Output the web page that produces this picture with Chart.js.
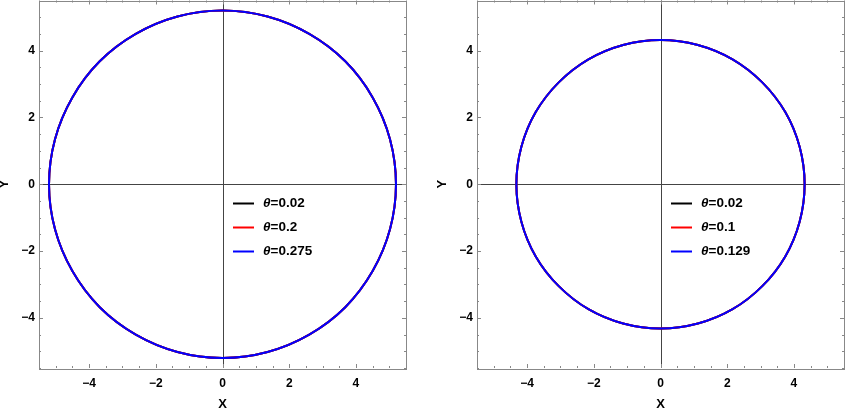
<!DOCTYPE html>
<html>
<head>
<meta charset="utf-8">
<script src="https://cdn.jsdelivr.net/npm/chart.js@4"></script>
<style>
  html, body { margin: 0; padding: 0; background: #fff; overflow: hidden; }
  body { width: 845px; height: 409px; position: relative; }
  canvas { position: absolute; top: 0; }
  #left { left: -18px; }
  #right { left: 420px; }
</style>
</head>
<body>
<canvas id="left" width="438" height="409"></canvas>
<canvas id="right" width="438" height="409"></canvas>
<script>
// orbit points (every 15 deg, with overlap to close the loop)
const leftX = [5.02, 5.2, 5.02, 4.5, 3.68, 2.6, 1.35, 0, -1.35, -2.6, -3.68, -4.5, -5.02, -5.2, -5.02, -4.5, -3.68, -2.6, -1.35, 0, 1.35, 2.6, 3.68, 4.5, 5.02, 5.2, 5.02];
const leftY = [-1.35, 0, 1.35, 2.6, 3.68, 4.5, 5.02, 5.2, 5.02, 4.5, 3.68, 2.6, 1.35, 0, -1.35, -2.6, -3.68, -4.5, -5.02, -5.2, -5.02, -4.5, -3.68, -2.6, -1.35, 0, 1.35];
const rightX = [4.17, 4.32, 4.17, 3.74, 3.05, 2.16, 1.12, 0, -1.12, -2.16, -3.05, -3.74, -4.17, -4.32, -4.17, -3.74, -3.05, -2.16, -1.12, 0, 1.12, 2.16, 3.05, 3.74, 4.17, 4.32, 4.17];
const rightY = [-1.12, 0, 1.12, 2.16, 3.05, 3.74, 4.17, 4.32, 4.17, 3.74, 3.05, 2.16, 1.12, 0, -1.12, -2.16, -3.05, -3.74, -4.17, -4.32, -4.17, -3.74, -3.05, -2.16, -1.12, 0, 1.12];
const thetaLeft = ['0.02', '0.2', '0.275'];
const thetaRight = ['0.02', '0.1', '0.129'];
const colors = ['#000000', '#ff0000', '#0000ff'];
const axisMin = -5.5, axisMax = 5.5;
const tickStep = 2;

const FONT = '"Liberation Sans", Arial, sans-serif';

function pts(xs, ys) {
  return xs.map((x, i) => ({x: x, y: ys[i]}));
}

function fmt(v) {
  return v < 0 ? '\u2212' + Math.abs(v) : String(v);
}

const decor = {
  id: 'decor',
  beforeDatasetsDraw(chart) {
    const {ctx, chartArea: a, scales: {x, y}} = chart;
    ctx.save();
    ctx.strokeStyle = '#444';
    ctx.lineWidth = 1;
    const x0 = Math.round(x.getPixelForValue(0)) + 0.5;
    const y0 = Math.round(y.getPixelForValue(0)) + 0.5;
    ctx.beginPath();
    ctx.moveTo(x0, a.top); ctx.lineTo(x0, a.bottom);
    ctx.moveTo(a.left, y0); ctx.lineTo(a.right, y0);
    ctx.stroke();
    ctx.restore();
  },
  afterDraw(chart) {
    const {ctx, chartArea: a, scales: {x, y}} = chart;
    ctx.save();
    // frame
    ctx.strokeStyle = '#888';
    ctx.lineWidth = 1;
    ctx.strokeRect(Math.round(a.left) + 0.5, Math.round(a.top) + 0.5,
      Math.round(a.right - a.left), Math.round(a.bottom - a.top));
    // inward ticks on all four sides
    ctx.beginPath();
    for (let k = -11; k <= 11; k++) {
      const v = k / 2;
      const len = (k % 4 === 0) ? 4 : 2;
      const px = Math.round(x.getPixelForValue(v)) + 0.5;
      const py = Math.round(y.getPixelForValue(v)) + 0.5;
      ctx.moveTo(px, a.bottom); ctx.lineTo(px, a.bottom - len);
      ctx.moveTo(px, a.top); ctx.lineTo(px, a.top + len);
      ctx.moveTo(a.left, py); ctx.lineTo(a.left + len, py);
      ctx.moveTo(a.right, py); ctx.lineTo(a.right - len, py);
    }
    ctx.stroke();
    // legend
    const lx = a.left + 194;
    const ly = a.top + 203;
    chart.data.datasets.forEach((ds, i) => {
      const yy = ly + i * 24;
      ctx.strokeStyle = ds.borderColor;
      ctx.lineWidth = 2;
      ctx.beginPath();
      ctx.moveTo(lx, yy); ctx.lineTo(lx + 21, yy);
      ctx.stroke();
      ctx.fillStyle = '#000';
      ctx.textBaseline = 'middle';
      ctx.textAlign = 'left';
      ctx.font = 'italic bold 13.5px ' + FONT;
      ctx.fillText(ds.label[0], lx + 30, yy);
      const w = ctx.measureText(ds.label[0]).width;
      ctx.font = 'bold 13.5px ' + FONT;
      ctx.fillText(ds.label.slice(1), lx + 30 + w, yy);
    });
    ctx.restore();
  }
};

function makeChart(id, xs, ys, thetas) {
  const last = xs.length - 1;
  const datasets = thetas.map((t, i) => ({
    label: '\u03b8=' + t,
    data: pts(xs, ys),
    borderColor: colors[i],
    backgroundColor: colors[i],
    borderWidth: 2,
    showLine: true,
    pointRadius: 0,
    tension: 0.34,
    order: thetas.length - 1 - i,
    // the overlap segments only shape the spline at the join
    segment: {
      borderColor: c => (c.p0DataIndex === 0 || c.p1DataIndex === last) ? 'rgba(0,0,0,0)' : undefined
    }
  }));
  return new Chart(document.getElementById(id), {
    type: 'scatter',
    data: {datasets: datasets},
    plugins: [decor],
    options: {
      responsive: false,
      devicePixelRatio: 1,
      animation: false,
      layout: {padding: {left: 0, right: 14, top: 0.5, bottom: 0}},
      plugins: {legend: {display: false}, tooltip: {enabled: false}},
      scales: {
        x: {
          type: 'linear',
          min: axisMin,
          max: axisMax,
          afterFit: s => { s.height = 41; s.paddingLeft = 0; s.paddingRight = 0; },
          grid: {display: false, drawTicks: false},
          border: {display: false},
          ticks: {
            stepSize: tickStep,
            includeBounds: false,
            padding: 8,
            color: '#000',
            font: {family: FONT, size: 12, weight: 'bold'},
            maxRotation: 0,
            callback: fmt
          },
          title: {
            display: true,
            text: 'X',
            color: '#000',
            padding: 0,
            font: {family: FONT, size: 13, weight: 'bold', lineHeight: 0.68}
          }
        },
        y: {
          type: 'linear',
          min: axisMin,
          max: axisMax,
          afterFit: s => { s.width = 57; s.paddingTop = 0; s.paddingBottom = 0; },
          grid: {display: false, drawTicks: false},
          border: {display: false},
          ticks: {
            stepSize: tickStep,
            includeBounds: false,
            padding: 4,
            color: '#000',
            font: {family: FONT, size: 12, weight: 'bold'},
            callback: fmt
          },
          title: {
            display: true,
            text: 'Y',
            color: '#000',
            padding: {top: 16, bottom: 16},
            font: {family: FONT, size: 13, weight: 'bold', lineHeight: 1}
          }
        }
      }
    }
  });
}

makeChart('left', leftX, leftY, thetaLeft);
makeChart('right', rightX, rightY, thetaRight);
</script>
</body>
</html>
